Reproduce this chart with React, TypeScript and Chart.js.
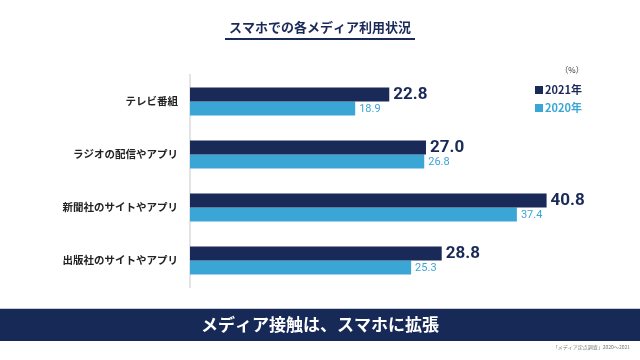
import React, { useEffect, useRef } from "react";
import { Chart, registerables } from "chart.js";

Chart.register(...registerables);

const categories = ["テレビ番組", "ラジオの配信やアプリ", "新聞社のサイトやアプリ", "出版社のサイトやアプリ"];
const values2021 = [22.8, 27.0, 40.8, 28.8];
const values2020 = [18.9, 26.8, 37.4, 25.3];
const seriesNames = ["2021年", "2020年"];
const titleText = "スマホでの各メディア利用状況";
const bannerText = "メディア接触は、スマホに拡張";
const sourceText = "「メディア定点調査」2020～2021";
const unitText = "（%）";

const NAVY = "#1a2a58";
const BLUE = "#3aa6d6";
const JP = '"Noto Sans CJK JP", "Noto Sans", sans-serif';
const NUM = 'Roboto, "Noto Sans", sans-serif';

const decorPlugin = {
  id: "decor",
  afterDraw(chart: any) {
    const ctx = chart.ctx;
    ctx.save();
    // title
    ctx.fillStyle = NAVY;
    ctx.font = `bold 13px ${JP}`;
    ctx.textAlign = "center";
    ctx.textBaseline = "middle";
    ctx.fillText(titleText, 320, 27);
    const tw = ctx.measureText(titleText).width;
    ctx.fillRect(320 - tw / 2 - 4, 38, tw + 8, 2);

    // unit
    ctx.fillStyle = "#333";
    ctx.font = `8px ${JP}`;
    ctx.fillText(unitText, 572, 70);

    // legend
    const leg = [
      { name: seriesNames[0], color: NAVY, y: 90 },
      { name: seriesNames[1], color: BLUE, y: 108 },
    ];
    ctx.textAlign = "left";
    ctx.font = `bold 11px ${JP}`;
    for (const l of leg) {
      ctx.fillStyle = l.color;
      ctx.fillRect(535, l.y - 4, 8, 8);
      ctx.fillText(l.name, 545, l.y);
    }

    // banner
    ctx.fillStyle = "#c8ccd6";
    ctx.fillRect(0, 308, 640, 1);
    ctx.fillStyle = "#172a57";
    ctx.fillRect(0, 309, 640, 32);
    ctx.fillStyle = "#ffffff";
    ctx.font = `bold 17px ${JP}`;
    ctx.textAlign = "center";
    ctx.fillText(bannerText, 320, 325);

    // source
    ctx.fillStyle = "#777";
    ctx.font = `5px ${JP}`;
    ctx.textAlign = "right";
    ctx.fillText(sourceText, 630, 347);
    ctx.restore();
  },
  afterDatasetsDraw(chart: any) {
    const ctx = chart.ctx;
    ctx.save();
    ctx.textAlign = "left";
    ctx.textBaseline = "middle";
    chart.data.datasets.forEach((ds: any, di: number) => {
      const meta = chart.getDatasetMeta(di);
      meta.data.forEach((el: any, i: number) => {
        const v = ds.data[i] as number;
        if (di === 0) {
          ctx.font = `bold 17px ${NUM}`;
          ctx.fillStyle = NAVY;
          ctx.fillText(v.toFixed(1), el.x + 4, el.y);
        } else {
          ctx.font = `11px ${NUM}`;
          ctx.fillStyle = BLUE;
          ctx.fillText(v.toFixed(1), el.x + 4, el.y + 1);
        }
      });
    });
    ctx.restore();
  },
};

export default function App() {
  const ref = useRef<HTMLCanvasElement>(null);
  useEffect(() => {
    if (!ref.current) return;
    const chart = new Chart(ref.current, {
      type: "bar",
      data: {
        labels: categories,
        datasets: [
          { label: seriesNames[0], data: values2021, backgroundColor: NAVY, categoryPercentage: 0.53, barPercentage: 1 },
          { label: seriesNames[1], data: values2020, backgroundColor: BLUE, categoryPercentage: 0.53, barPercentage: 1 },
        ],
      },
      options: {
        indexAxis: "y",
        animation: false,
        responsive: false,
        maintainAspectRatio: false,
        layout: { padding: { top: 75, bottom: 73, left: 0, right: 13 } },
        plugins: { legend: { display: false }, tooltip: { enabled: false }, title: { display: false } },
        scales: {
          x: { min: 0, max: 50, display: false },
          y: {
            grid: { display: false, drawTicks: false },
            border: { display: true, color: "#e4e4e4", width: 2 },
            ticks: { padding: 12, color: "#222", font: { family: JP, size: 10.5, weight: "bold" } },
            afterFit: (s: any) => { s.width = 190; },
          },
        },
      },
      plugins: [decorPlugin],
    } as any);
    return () => chart.destroy();
  }, []);
  return (
    <div style={{ position: "fixed", left: 0, top: 0, width: 640, height: 360, background: "#fff" }}>
      <canvas ref={ref} width={640} height={360} style={{ width: 640, height: 360 }} />
    </div>
  );
}
